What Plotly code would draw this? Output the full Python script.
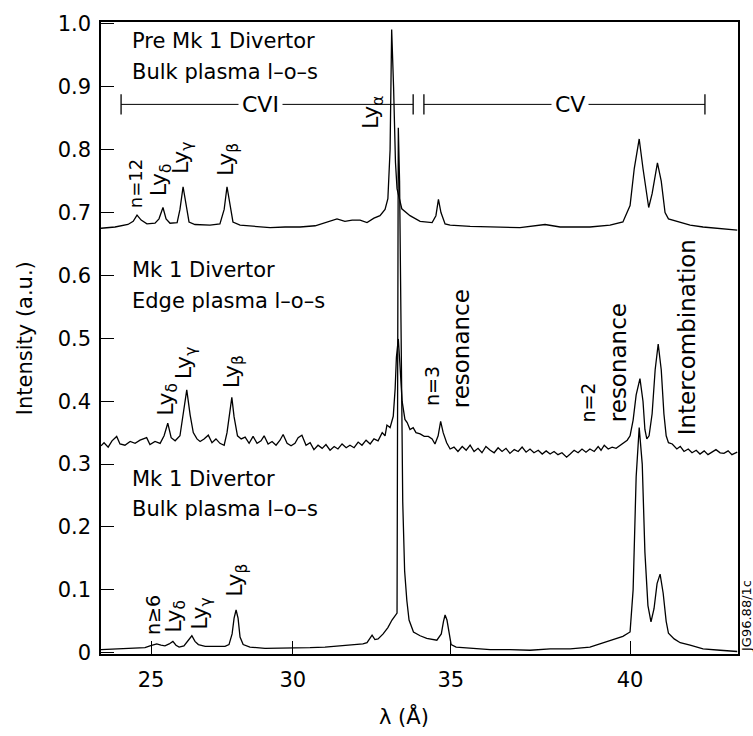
import numpy as np
import plotly.graph_objects as go

# ---- wavelength calibration of the (non-linear) spectrometer axis ----
cal_wavelength = [23.0, 25.0, 30.0, 35.0, 40.0, 43.0]
cal_channel = [96.0, 151.0, 292.7, 450.7, 630.0, 744.0]

def to_ch(wl):
    return np.interp(np.asarray(wl, dtype=float), cal_wavelength, cal_channel)

# ---- Pre Mk 1 Divertor, bulk plasma l-o-s ----
pre_bulk_wl = [23.18, 23.69, 24.16, 24.35, 24.49, 24.64, 24.85, 25.14, 25.28, 25.42, 25.53, 25.67,
               25.92, 26.02, 26.13, 26.23, 26.34, 26.55, 27.08, 27.43, 27.58, 27.68, 27.79, 27.89,
               28.14, 28.67, 29.20, 29.73, 30.23, 30.71, 31.02, 31.40, 31.65, 31.88, 32.13, 32.35,
               32.57, 32.76, 32.92, 33.01, 33.08, 33.13, 33.19, 33.25, 33.30, 33.45, 33.71, 34.03,
               34.41, 34.53, 34.61, 34.69, 34.82, 34.98, 35.54, 36.37, 36.93, 37.63, 38.05, 38.88,
               39.44, 39.80, 40.00, 40.11, 40.24, 40.34, 40.49, 40.58, 40.72, 40.82, 40.92, 41.01,
               41.23, 41.58, 41.92, 42.37, 42.82]
pre_bulk_int = [0.675, 0.677, 0.681, 0.686, 0.696, 0.688, 0.682, 0.683, 0.690, 0.708, 0.690, 0.683,
                0.684, 0.705, 0.741, 0.712, 0.685, 0.681, 0.680, 0.682, 0.705, 0.741, 0.708, 0.685,
                0.680, 0.678, 0.676, 0.677, 0.677, 0.679, 0.684, 0.690, 0.686, 0.688, 0.688, 0.684,
                0.691, 0.695, 0.705, 0.722, 0.800, 0.991, 0.900, 0.780, 0.738, 0.706, 0.695, 0.686,
                0.684, 0.695, 0.721, 0.700, 0.682, 0.680, 0.678, 0.677, 0.676, 0.681, 0.677, 0.677,
                0.680, 0.685, 0.711, 0.770, 0.817, 0.770, 0.708, 0.730, 0.779, 0.750, 0.700, 0.690,
                0.686, 0.680, 0.677, 0.675, 0.672]

# ---- Mk 1 Divertor, edge plasma l-o-s ----
edge_wl = [23.18, 23.29, 23.44, 23.58, 23.75, 23.87, 24.05, 24.24, 24.42, 24.60, 24.84, 24.96,
           25.14, 25.32, 25.46, 25.59, 25.71, 25.85, 26.02, 26.15, 26.26, 26.38, 26.49, 26.62,
           26.73, 26.87, 27.02, 27.15, 27.29, 27.43, 27.58, 27.68, 27.77, 27.85, 27.93, 28.05,
           28.18, 28.32, 28.46, 28.60, 28.74, 28.88, 28.99, 29.13, 29.27, 29.41, 29.55, 29.66,
           29.80, 29.94, 30.07, 30.17, 30.29, 30.42, 30.55, 30.67, 30.80, 30.93, 31.05, 31.18,
           31.31, 31.43, 31.56, 31.69, 31.81, 31.94, 32.07, 32.19, 32.32, 32.45, 32.57, 32.70,
           32.83, 32.92, 32.98, 33.08, 33.18, 33.24, 33.28, 33.34, 33.39, 33.46, 33.55, 33.62,
           33.71, 33.81, 33.90, 34.03, 34.16, 34.29, 34.41, 34.50, 34.60, 34.68, 34.76, 34.87,
           34.98, 35.09, 35.20, 35.32, 35.43, 35.54, 35.65, 35.76, 35.87, 35.98, 36.10, 36.21,
           36.32, 36.43, 36.54, 36.65, 36.77, 36.88, 36.99, 37.10, 37.21, 37.32, 37.44, 37.55,
           37.66, 37.77, 37.88, 37.99, 38.10, 38.23, 38.33, 38.44, 38.55, 38.66, 38.77, 38.88,
           39.00, 39.11, 39.19, 39.28, 39.39, 39.50, 39.61, 39.72, 39.83, 39.92, 40.00, 40.08,
           40.16, 40.26, 40.34, 40.39, 40.44, 40.50, 40.58, 40.66, 40.74, 40.82, 40.89, 40.95,
           41.01, 41.11, 41.23, 41.32, 41.42, 41.53, 41.63, 41.74, 41.84, 41.95, 42.05, 42.16,
           42.26, 42.37, 42.47, 42.58, 42.68, 42.82]
edge_int = [0.329, 0.334, 0.327, 0.337, 0.344, 0.332, 0.330, 0.336, 0.333, 0.338, 0.342, 0.331,
            0.336, 0.333, 0.345, 0.365, 0.342, 0.337, 0.345, 0.385, 0.418, 0.378, 0.350, 0.340,
            0.336, 0.340, 0.346, 0.334, 0.340, 0.333, 0.330, 0.350, 0.385, 0.406, 0.375, 0.345,
            0.340, 0.343, 0.333, 0.344, 0.333, 0.337, 0.345, 0.332, 0.336, 0.330, 0.338, 0.347,
            0.333, 0.329, 0.333, 0.342, 0.346, 0.330, 0.334, 0.323, 0.330, 0.325, 0.331, 0.322,
            0.328, 0.324, 0.332, 0.326, 0.330, 0.326, 0.335, 0.330, 0.338, 0.332, 0.340, 0.337,
            0.350, 0.345, 0.362, 0.358, 0.376, 0.420, 0.470, 0.499, 0.460, 0.400, 0.371, 0.366,
            0.355, 0.358, 0.350, 0.348, 0.344, 0.344, 0.340, 0.332, 0.345, 0.368, 0.350, 0.334,
            0.324, 0.327, 0.320, 0.328, 0.322, 0.330, 0.320, 0.325, 0.318, 0.328, 0.322, 0.318,
            0.326, 0.320, 0.325, 0.317, 0.323, 0.320, 0.327, 0.319, 0.324, 0.318, 0.322, 0.316,
            0.321, 0.316, 0.320, 0.315, 0.318, 0.311, 0.316, 0.322, 0.318, 0.324, 0.319, 0.324,
            0.320, 0.328, 0.322, 0.330, 0.324, 0.327, 0.325, 0.330, 0.334, 0.338, 0.345, 0.370,
            0.410, 0.436, 0.400, 0.355, 0.340, 0.345, 0.380, 0.450, 0.491, 0.450, 0.380, 0.345,
            0.334, 0.332, 0.324, 0.328, 0.320, 0.324, 0.318, 0.322, 0.316, 0.321, 0.315, 0.319,
            0.323, 0.318, 0.317, 0.321, 0.315, 0.319]

# ---- Mk 1 Divertor, bulk plasma l-o-s ----
bulk_wl = [23.18, 23.69, 24.24, 24.78, 24.96, 25.20, 25.35, 25.49, 25.64, 25.77, 25.88, 25.99,
           26.16, 26.31, 26.44, 26.55, 26.67, 26.91, 27.26, 27.61, 27.75, 27.86, 27.93, 28.00,
           28.07, 28.14, 28.25, 28.49, 29.02, 29.55, 30.07, 30.55, 31.02, 31.50, 31.81, 32.03,
           32.22, 32.35, 32.45, 32.51, 32.60, 32.70, 32.86, 33.01, 33.14, 33.30, 33.34, 33.38,
           33.43, 33.48, 33.54, 33.61, 33.68, 33.82, 34.03, 34.24, 34.56, 34.70, 34.77, 34.82,
           34.88, 34.95, 35.01, 35.15, 35.54, 36.10, 36.65, 37.21, 37.77, 38.33, 38.88, 39.25,
           39.58, 39.80, 40.00, 40.08, 40.16, 40.24, 40.32, 40.39, 40.47, 40.55, 40.63, 40.71,
           40.79, 40.87, 40.95, 41.01, 41.16, 41.32, 41.58, 41.92, 42.37, 42.82]
bulk_int = [0.005, 0.006, 0.008, 0.008, 0.011, 0.014, 0.012, 0.011, 0.014, 0.018, 0.012, 0.009,
            0.011, 0.020, 0.027, 0.018, 0.013, 0.010, 0.010, 0.010, 0.013, 0.030, 0.055, 0.068,
            0.055, 0.025, 0.013, 0.009, 0.007, 0.007, 0.008, 0.008, 0.009, 0.011, 0.012, 0.013,
            0.014, 0.016, 0.024, 0.028, 0.021, 0.022, 0.030, 0.040, 0.052, 0.063, 0.835, 0.750,
            0.500, 0.240, 0.130, 0.083, 0.052, 0.033, 0.027, 0.023, 0.020, 0.030, 0.050, 0.060,
            0.052, 0.030, 0.013, 0.009, 0.007, 0.005, 0.005, 0.004, 0.006, 0.006, 0.009, 0.016,
            0.021, 0.026, 0.033, 0.100, 0.280, 0.358, 0.300, 0.160, 0.075, 0.049, 0.070, 0.110,
            0.125, 0.095, 0.050, 0.031, 0.022, 0.016, 0.012, 0.006, 0.004, 0.002]

x_tick_values = [25, 30, 35, 40]
y_tick_values = [0, 0.1, 0.2, 0.3, 0.4, 0.5, 0.6, 0.7, 0.8, 0.9, 1.0]
y_tick_labels = ["0", "0.1", "0.2", "0.3", "0.4", "0.5", "0.6", "0.7", "0.8", "0.9", "1.0"]
x_view = [23.18, 42.84]
y_view = [-0.002, 1.003]

FONT = "DejaVu Sans"
fig = go.Figure()
for wl, inten in [(pre_bulk_wl, pre_bulk_int), (edge_wl, edge_int), (bulk_wl, bulk_int)]:
    fig.add_trace(go.Scatter(x=to_ch(wl), y=inten, mode="lines",
                             line=dict(color="black", width=1.3), showlegend=False,
                             hoverinfo="skip"))

ann = []
def txt(wl, y, s, size=21, angle=0, xanchor="left", yanchor="middle", **kw):
    ann.append(dict(x=float(to_ch(wl)), y=y, xref="x", yref="y", text=s, showarrow=False,
                    textangle=angle, xanchor=xanchor, yanchor=yanchor,
                    font=dict(family=FONT, size=size, color="black"), **kw))

# block titles
txt(24.24, 0.973, "Pre Mk 1 Divertor")
txt(24.24, 0.923, "Bulk plasma l\u2013o\u2013s")
txt(24.24, 0.609, "Mk 1 Divertor")
txt(24.24, 0.559, "Edge plasma l\u2013o\u2013s")
txt(24.24, 0.276, "Mk 1 Divertor")
txt(24.24, 0.228, "Bulk plasma l\u2013o\u2013s")

LY = dict(angle=-90, xanchor="center", yanchor="bottom", size=22)
NN = dict(angle=-90, xanchor="center", yanchor="bottom", size=19)
WD = dict(angle=-90, xanchor="center", yanchor="bottom", size=23)
# top spectrum labels
txt(24.42, 0.703, "n=12", angle=-90, xanchor="center", yanchor="bottom", size=18)
txt(25.32, 0.722, "Ly<sub>\u03b4</sub>", **LY)
txt(26.09, 0.758, "Ly<sub>\u03b3</sub>", **LY)
txt(27.68, 0.754, "Ly<sub>\u03b2</sub>", **LY)
txt(32.54, 0.829, "Ly<sub>\u03b1</sub>", **LY)
# middle spectrum labels
txt(25.55, 0.374, "Ly<sub>\u03b4</sub>", **LY)
txt(26.20, 0.432, "Ly<sub>\u03b3</sub>", **LY)
txt(27.89, 0.418, "Ly<sub>\u03b2</sub>", **LY)
txt(34.40, 0.389, "n=3", **NN)
txt(35.28, 0.386, "resonance", **WD)
txt(38.83, 0.363, "n=2", **NN)
txt(39.67, 0.363, "resonance", **WD)
txt(41.49, 0.342, "Intercombination", **WD)
# bottom spectrum labels
txt(25.07, 0.025, "n\u22656", **NN)
txt(25.85, 0.028, "Ly<sub>\u03b4</sub>", **LY)
txt(26.79, 0.033, "Ly<sub>\u03b3</sub>", **LY)
txt(28.02, 0.086, "Ly<sub>\u03b2</sub>", **LY)

# ion-stage brackets
bracket_y = 0.872
tick_h = 0.016
shapes = []
for lo, hi, name, mid in [(23.91, 33.81, "CVI", 28.85), (34.15, 41.97, "CV", 38.33)]:
    x0, x1 = float(to_ch(lo)), float(to_ch(hi))
    shapes.append(dict(type="line", x0=x0, x1=x1, y0=bracket_y, y1=bracket_y, xref="x", yref="y",
                       line=dict(color="black", width=1)))
    for xe in (x0, x1):
        shapes.append(dict(type="line", x0=xe, x1=xe, y0=bracket_y - tick_h, y1=bracket_y + tick_h,
                           xref="x", yref="y", line=dict(color="black", width=1.3)))
    txt(mid, bracket_y, name, size=22, xanchor="center", yanchor="middle", bgcolor="white",
        borderpad=3)

# axis titles and figure code
ann.append(dict(x=-0.119, y=0.5, xref="paper", yref="paper", text="Intensity (a.u.)",
                textangle=-90, showarrow=False, xanchor="center", yanchor="middle",
                font=dict(family=FONT, size=21, color="black")))
ann.append(dict(x=0.475, y=-0.098, xref="paper", yref="paper", text="\u03bb (\u00c5)",
                showarrow=False, xanchor="center", yanchor="middle",
                font=dict(family=FONT, size=21, color="black")))
ann.append(dict(x=1.0125, y=0.0, xref="paper", yref="paper", text="JG96.88/1c",
                textangle=-90, showarrow=False, xanchor="center", yanchor="bottom",
                font=dict(family=FONT, size=13, color="black")))

fig.update_layout(
    width=753, height=736,
    margin=dict(l=101, r=15, t=14, b=82),
    paper_bgcolor="white", plot_bgcolor="white",
    annotations=ann, shapes=shapes,
    font=dict(family=FONT, size=21, color="black"),
)
fig.update_xaxes(range=[float(to_ch(x_view[0])), float(to_ch(x_view[1]))],
                 tickvals=[float(v) for v in to_ch(x_tick_values)],
                 ticktext=[str(v) for v in x_tick_values],
                 showline=True, linecolor="black", linewidth=1.5, mirror=True,
                 ticks="inside", ticklen=13, tickwidth=1, tickcolor="black",
                 showgrid=False, zeroline=False, ticklabelstandoff=6,
                 tickfont=dict(family=FONT, size=21))
fig.update_yaxes(range=y_view, tickvals=y_tick_values, ticktext=y_tick_labels,
                 showline=True, linecolor="black", linewidth=1.5, mirror=True,
                 ticks="inside", ticklen=13, tickwidth=1, tickcolor="black",
                 showgrid=False, zeroline=False, ticklabelstandoff=4,
                 tickfont=dict(family=FONT, size=21))

fig.write_html("out.html")
